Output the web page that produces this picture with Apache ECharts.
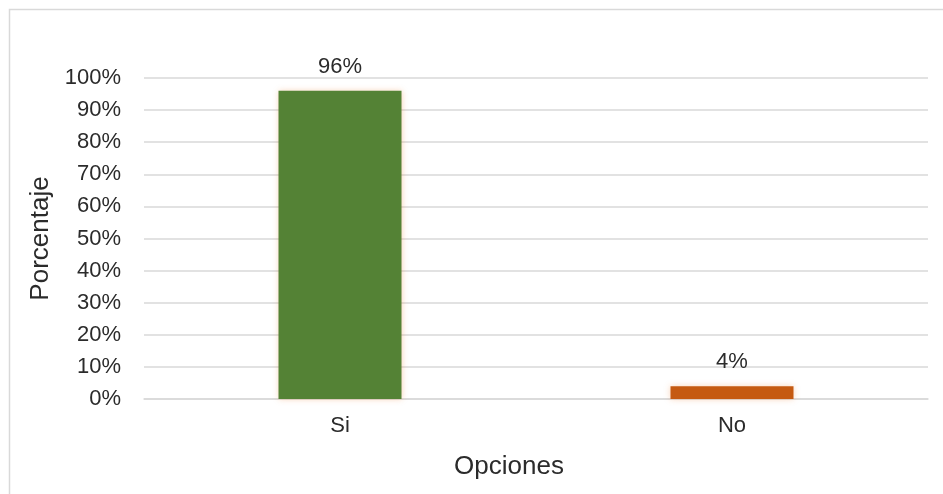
<!DOCTYPE html>
<html>
<head>
<meta charset="utf-8">
<script src="https://cdn.jsdelivr.net/npm/echarts@6/dist/echarts.min.js"></script>
<style>
  html, body { margin: 0; padding: 0; background: #fff; }
  #chart { width: 943px; height: 494px; }
</style>
</head>
<body>
<div id="chart"></div>
<script>
// Survey answers and their share of responses (%)
const categories = ['Si', 'No'];
const values = [96, 4];
const barColors = ['#548235', '#C55A11'];
const yTicks = [0, 10, 20, 30, 40, 50, 60, 70, 80, 90, 100];

const FONT = 'Liberation Sans, Arial, sans-serif';
const TEXT = '#2b2b2b';

const chart = echarts.init(document.getElementById('chart'), null, { renderer: 'canvas' });

chart.setOption({
  backgroundColor: '#ffffff',
  animation: false,
  grid: { left: 144, right: 15, top: 78, bottom: 95, containLabel: false },
  xAxis: {
    type: 'category',
    data: categories,
    axisLine: { show: true, lineStyle: { color: '#d9d9d9', width: 1.5 } },
    axisTick: { show: false },
    axisLabel: { color: TEXT, fontFamily: FONT, fontSize: 22, margin: 16 }
  },
  yAxis: {
    type: 'value',
    min: yTicks[0],
    max: yTicks[yTicks.length - 1],
    interval: yTicks[1] - yTicks[0],
    name: 'Porcentaje',
    nameLocation: 'middle',
    nameGap: 90,
    nameRotate: 90,
    nameTextStyle: { color: TEXT, fontFamily: FONT, fontSize: 26 },
    axisLine: { show: false },
    axisTick: { show: false },
    axisLabel: { color: TEXT, fontFamily: FONT, fontSize: 22, margin: 23, formatter: '{value}%' },
    splitLine: { lineStyle: { color: '#d9d9d9', width: 1.5 } }
  },
  graphic: [
    {
      type: 'rect',
      shape: { x: 9.5, y: 9.5, width: 1000, height: 600 },
      style: { fill: 'none', stroke: '#d9d9d9', lineWidth: 1.5 },
      silent: true,
      z: -1
    },
    {
      type: 'text',
      x: 509,
      y: 467,
      style: {
        text: 'Opciones',
        fill: TEXT,
        font: '26px ' + FONT,
        align: 'center',
        verticalAlign: 'middle'
      }
    }
  ],
  series: [{
    type: 'bar',
    barWidth: 123,
    data: values.map((v, i) => ({
      value: v,
      itemStyle: {
        color: barColors[i],
        shadowColor: 'rgba(237, 125, 49, 0.35)',
        shadowBlur: 6
      }
    })),
    label: {
      show: true,
      position: 'top',
      distance: 13,
      formatter: '{c}%',
      color: TEXT,
      fontFamily: FONT,
      fontSize: 22
    }
  }]
});
</script>
</body>
</html>
